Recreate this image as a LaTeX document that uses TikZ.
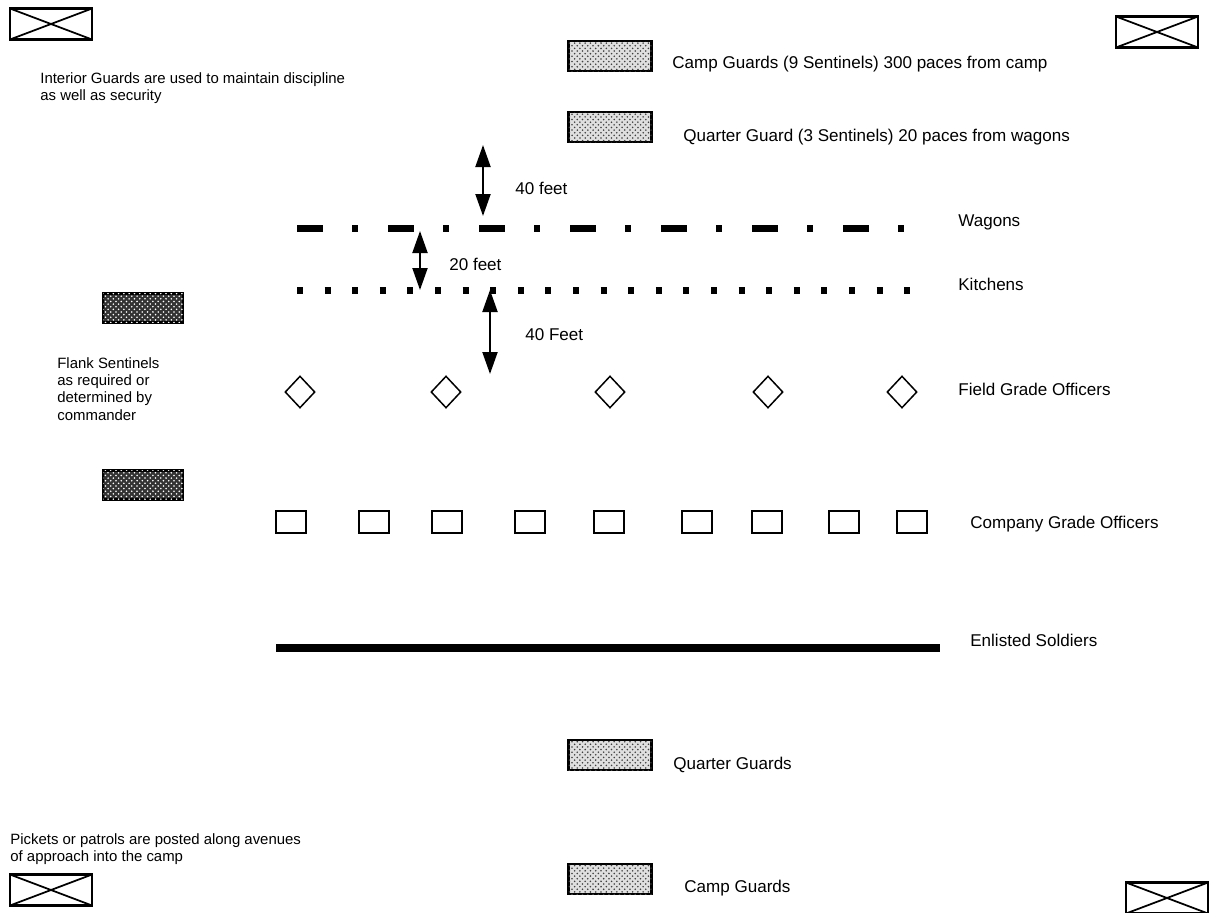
\documentclass[tikz,border=0pt]{standalone}
\usepackage{fontspec}
\setmainfont{Liberation Sans}
\usetikzlibrary{arrows.meta,patterns,shapes.geometric}

\begin{document}
\begin{tikzpicture}[x=0.2mm,y=-0.2mm,
        txt/.style={font=\fontsize{9.7}{11}\selectfont, anchor=west, inner sep=0, align=left},
        note/.style={font=\fontsize{8.5}{9.8}\selectfont, anchor=west, inner sep=0, align=left},
        crossbox/.style={draw, line width=0.45mm, minimum width=16.4mm, minimum height=6.2mm, inner sep=0,
            path picture={\draw[line width=0.35mm] (path picture bounding box.north west) -- (path picture bounding box.south east)
                (path picture bounding box.south west) -- (path picture bounding box.north east);}},
        guard/.style={draw, line width=0.45mm, minimum width=16.6mm, minimum height=6mm, inner sep=0, fill=gray!25,
            postaction={pattern=crosshatch dots, pattern color=black!75}},
        flank/.style={draw, line width=0.45mm, minimum width=16mm, minimum height=5.8mm, inner sep=0, fill=black!80,
            postaction={pattern=crosshatch dots, pattern color=white}},
        field/.style={draw, diamond, line width=0.3mm, minimum width=6mm, minimum height=6.4mm, inner sep=0},
        company/.style={draw, line width=0.4mm, minimum width=6mm, minimum height=4.4mm, inner sep=0},
        gap/.style={{Triangle[length=4.4mm,width=3mm]}-{Triangle[length=4.4mm,width=3mm]}, line width=0.4mm}]
    \useasboundingbox (0,0) rectangle (1209,913);
    % pickets at the corners
    \node[crossbox] (picketNW) at (51,24) {};
    \node[crossbox] (picketNE) at (1157,32) {};
    \node[crossbox] (picketSW) at (51,890) {};
    \node[crossbox] (picketSE) at (1167,898) {};
    \node[note] (pickets) at (10,849) {Pickets or patrols are posted along avenues\\of approach into the camp};
    % guards
    \node[guard] (campN) at (610,56) {};
    \node[txt] (campNtxt) at (672,64) {Camp Guards (9 Sentinels) 300 paces from camp};
    \node[guard] (quarterN) at (610,127) {};
    \node[txt] (quarterNtxt) at (683,137) {Quarter Guard (3 Sentinels) 20 paces from wagons};
    \node[note] (interior) at (40,88) {Interior Guards are used to maintain discipline\\as well as security};
    \node[guard] (quarterS) at (610,755) {};
    \node[txt] (quarterStxt) at (673,765) {Quarter Guards};
    \node[guard] (campS) at (610,879) {};
    \node[txt] (campStxt) at (684,888) {Camp Guards};
    % flank sentinels
    \node[flank] (flankN) at (143,308) {};
    \node[flank] (flankS) at (143,485) {};
    \node[note] (flanktxt) at (57,389) {Flank Sentinels\\as required or\\determined by\\commander};
    % wagons and kitchens
    \coordinate (wagonsW) at (297,228);
    \coordinate (wagonsE) at (904,228);
    \draw[line width=1.4mm, dash pattern=on 5.2mm off 5.8mm on 1.2mm off 6mm] (wagonsW) -- (wagonsE);
    \node[txt] (wagons) at (958,222) {Wagons};
    \coordinate (kitchensW) at (297,290);
    \coordinate (kitchensE) at (912,290);
    \draw[line width=1.4mm, dash pattern=on 1.2mm off 4.32mm] (kitchensW) -- (kitchensE);
    \node[txt] (kitchens) at (958,284) {Kitchens};
    % distances
    \coordinate (d1top) at (483,145);
    \coordinate (d1bot) at (483,216);
    \draw[gap] (d1top) -- (d1bot);
    \node[txt] at (515,188) {40 feet};
    \coordinate (d2top) at (420,231);
    \coordinate (d2bot) at (420,290);
    \draw[gap] (d2top) -- (d2bot);
    \node[txt] at (449,264) {20 feet};
    \coordinate (d3top) at (490,290);
    \coordinate (d3bot) at (490,374);
    \draw[gap] (d3top) -- (d3bot);
    \node[txt] at (525,335) {40 Feet};
    % officers
    \node[field] (fg1) at (300,392) {};
    \node[field] (fg2) at (446,392) {};
    \node[field] (fg3) at (610,392) {};
    \node[field] (fg4) at (768,392) {};
    \node[field] (fg5) at (902,392) {};
    \node[txt] (fieldtxt) at (958,389) {Field Grade Officers};
    \foreach \x [count=\i] in {291,374,447,530,609,697,767,844,912}
        \node[company] (cg\i) at (\x,522) {};
    \node[txt] (companytxt) at (970,524) {Company Grade Officers};
    % enlisted
    \coordinate (enlistedW) at (276,648);
    \coordinate (enlistedE) at (940,648);
    \draw[line width=1.6mm] (enlistedW) -- (enlistedE);
    \node[txt] (enlisted) at (970,640) {Enlisted Soldiers};
\end{tikzpicture}
\end{document}
